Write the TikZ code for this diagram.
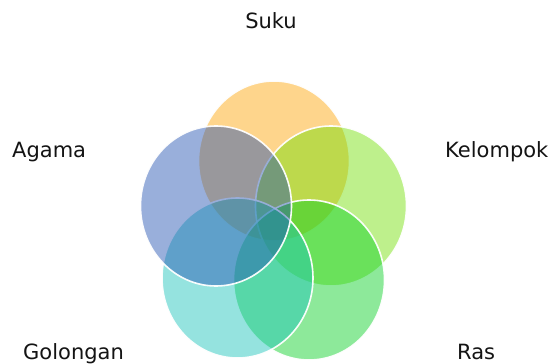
\documentclass[tikz,border=0pt]{standalone}
\usepackage{fontspec}
\setmainfont{DejaVu Sans}
\definecolor{cSuku}{RGB}{253,164,0}
\definecolor{cKel}{RGB}{111,222,0}
\definecolor{cRas}{RGB}{4,208,33}
\definecolor{cGol}{RGB}{22,195,186}
\definecolor{cAga}{RGB}{31,79,177}
\definecolor{txt}{RGB}{20,20,20}
\tikzset{
  blob/.style={fill opacity=0.45, draw=white, draw opacity=0.95, line width=1.6pt},
  lab/.style={font=\fontsize{21}{24}\selectfont, text=txt, inner sep=0pt}
}
\begin{document}
\begin{tikzpicture}[x=1pt,y=-1pt]
\useasboundingbox[fill=white] (0,0) rectangle (555,364);
\path[blob, fill=cSuku] (274,161) ellipse [x radius=75.5pt, y radius=80pt];
\path[blob, fill=cKel] (331,206) ellipse [x radius=75.5pt, y radius=80pt];
\path[blob, fill=cRas] (309,280) ellipse [x radius=75.5pt, y radius=80pt];
\path[blob, fill=cGol] (237.5,278) ellipse [x radius=75.5pt, y radius=80pt];
\path[blob, fill=cAga] (216,206) ellipse [x radius=75.5pt, y radius=80pt];
\node[lab, anchor=base] (suku) at (271,28) {Suku};
\node[lab, anchor=base west] (agama) at (12,157) {Agama};
\node[lab, anchor=base west] (kelompok) at (445,157) {Kelompok};
\node[lab, anchor=base west] (golongan) at (23,359) {Golongan};
\node[lab, anchor=base west] (ras) at (457,359) {Ras};
\end{tikzpicture}
\end{document}
